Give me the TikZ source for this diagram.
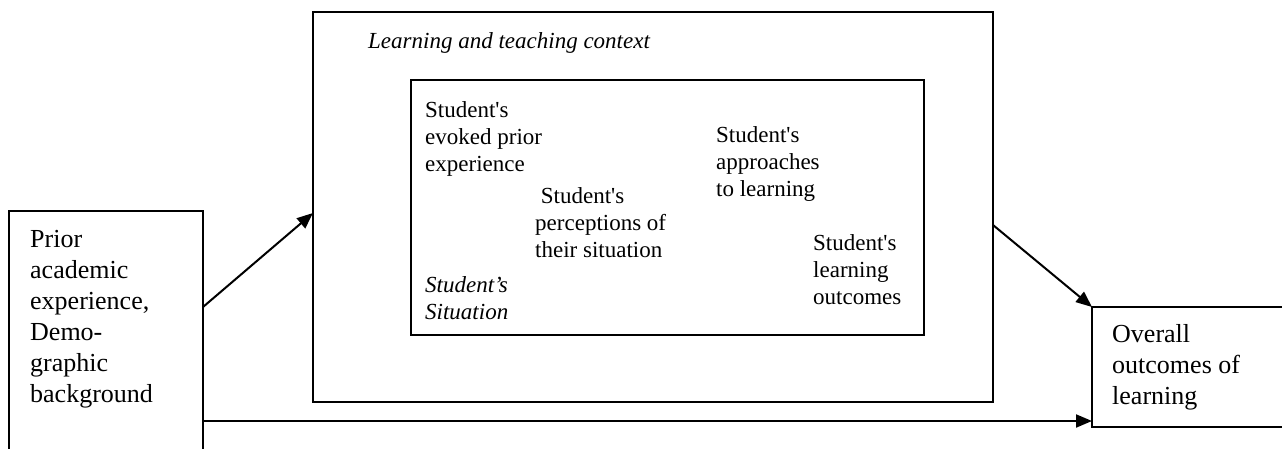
\documentclass[tikz,border=0pt]{standalone}
\usepackage{fontspec}
\newfontfamily\tnr{Liberation Serif}
\usetikzlibrary{arrows.meta,calc}
\begin{document}
\begin{tikzpicture}[x=1pt,y=-1pt,
  box/.style={draw, line width=2pt, rectangle, anchor=north west, inner sep=0pt, outer sep=0pt},
  bigtxt/.style={font=\tnr\fontsize{26}{31}\selectfont, align=left, inner sep=0pt, anchor=north west},
  smalltxt/.style={font=\tnr\fontsize{23}{27}\selectfont, align=left, inner sep=0pt, anchor=north west},
  conn/.style={line width=2pt, -{Triangle[length=16pt,width=13pt]}}]
\useasboundingbox (0,0) rectangle (1282,448);
% boxes
\node[box, minimum width=194pt, minimum height=270pt] (prior) at (9,211) {};
\node[box, minimum width=680pt, minimum height=390pt, line width=2.2pt] (ctx) at (313,12) {};
\node[box, minimum width=513pt, minimum height=255pt] (sit) at (411,80) {};
\node[box, minimum width=220pt, minimum height=120pt] (overall) at (1092,307) {};
% texts
\node[bigtxt] (tprior) at (30,230) {Prior\\academic\\experience,\\Demo-\\graphic\\background};
\node[bigtxt] (tover) at (1112,324) {Overall\\outcomes of\\learning};
\node[smalltxt, font=\tnr\itshape\fontsize{23}{27}\selectfont] (tctx) at (368,32) {Learning and teaching context};
\node[smalltxt] (tevo) at (425,101) {Student's\\evoked prior\\experience};
\node[smalltxt] (tper) at (535,187) {\ Student's\\perceptions of\\their situation};
\node[smalltxt, font=\tnr\itshape\fontsize{23}{27}\selectfont] (tsit) at (425,276) {Student’s\\Situation};
\node[smalltxt] (tapp) at (716,126) {Student's\\approaches\\to learning};
\node[smalltxt] (tout) at (813,234) {Student's\\learning\\outcomes};
% connector end points on box borders
\coordinate (p1) at ($(prior.north east)+(0,96)$);
\coordinate (c1) at ($(ctx.north west)+(0,201)$);
\coordinate (c2) at ($(ctx.north east)+(0,213)$);
\coordinate (p2) at ($(prior.north east)+(0,210)$);
\draw[conn] (p1) -- (c1);
\draw[conn] (c2) -- (overall.north west);
\draw[conn] (p2) -- (p2 -| overall.west);
\end{tikzpicture}
\end{document}
